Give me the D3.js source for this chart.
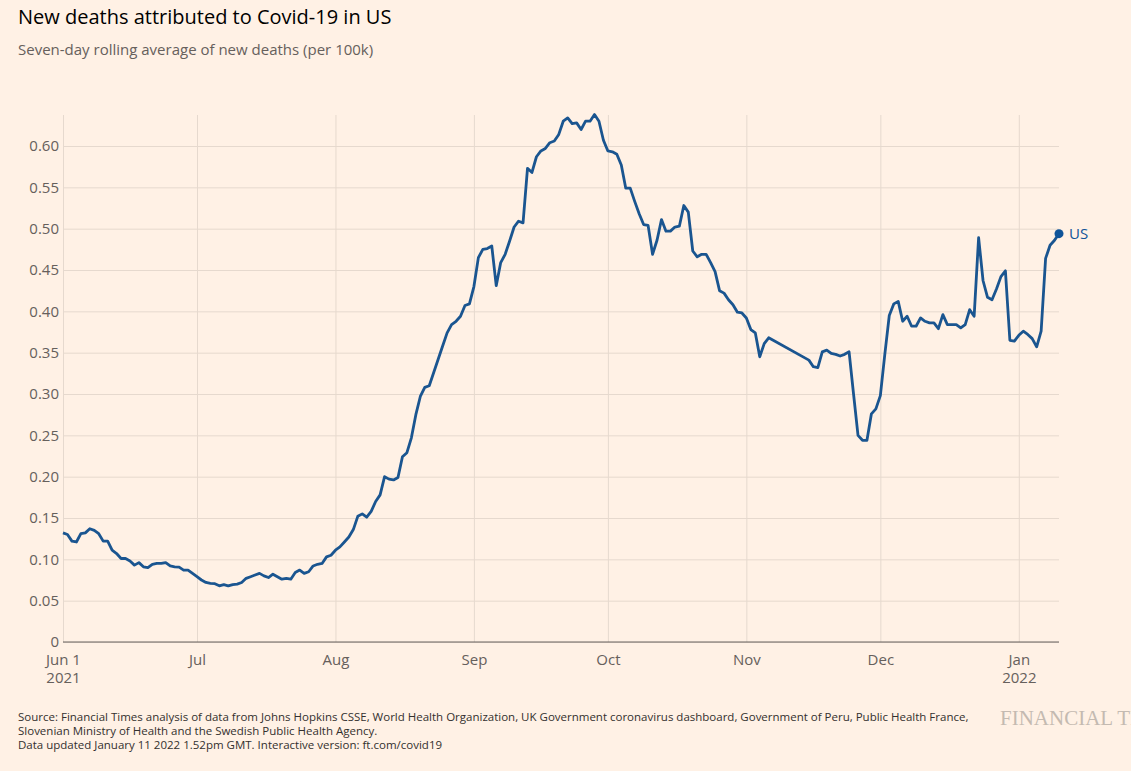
<!DOCTYPE html>
<html>
<head>
<meta charset="utf-8">
<script src="https://cdn.jsdelivr.net/npm/d3@7"></script>
<style>
  html, body { margin: 0; padding: 0; background: #fff1e5; }
  svg { display: block; }
  text { font-family: "Open Sans", "Noto Sans", sans-serif; }
</style>
</head>
<body>
<svg id="chart" width="1131" height="771"></svg>
<script>
// Daily values from Jun 1 2021; null = day not plotted (line runs straight across)
const startDate = "2021-06-01";
const usDeaths = [
  0.132, 0.130, 0.122, 0.121, 0.131, 0.132, 0.137, 0.135, 0.131, 0.122,
  0.122, 0.111, 0.107, 0.101, 0.101, 0.098, 0.093, 0.096, 0.091, 0.090,
  0.094, 0.095, 0.095, 0.096, 0.092, 0.091, 0.0905, 0.087, 0.087, 0.083,
  0.079, 0.075, 0.072, 0.071, 0.0705, 0.068, 0.0695, 0.068, 0.0695, 0.070,
  0.072, 0.077, 0.079, 0.081, 0.083, 0.080, 0.078, 0.082, 0.079, 0.076,
  0.077, 0.076, 0.084, 0.087, 0.083, 0.085, 0.092, 0.094, 0.095, 0.103,
  0.105, 0.111, 0.115, 0.121, 0.127, 0.136, 0.152, 0.155, 0.151, 0.158,
  0.170, 0.178, 0.200, 0.197, 0.196, 0.199, 0.224, 0.229, 0.247, 0.275,
  0.297, 0.308, 0.310, 0.326, 0.342, 0.358, 0.374, 0.384, 0.388, 0.394,
  0.407, 0.409, 0.430, 0.465, 0.475, 0.476, 0.479, 0.431, 0.459, 0.469,
  0.485, 0.502, 0.509, 0.507, 0.573, 0.568, 0.587, 0.594, 0.597, 0.604,
  0.606, 0.614, 0.630, 0.634, 0.627, 0.628, 0.620, 0.630, 0.630, 0.638,
  0.630, 0.607, 0.594, 0.593, 0.590, 0.577, 0.549, 0.549, 0.533, 0.518,
  0.505, 0.504, 0.469, 0.486, 0.511, 0.497, 0.497, 0.502, 0.503, 0.528,
  0.520, 0.473, 0.466, 0.469, 0.469, 0.459, 0.448, 0.425, 0.422, 0.414,
  0.408, 0.399, 0.398, 0.392, 0.378, 0.374, 0.345, 0.361, 0.368, null,
  null, null, null, null, null, null, null, 0.341, 0.333, 0.332,
  0.351, 0.353, 0.349, 0.348, 0.346, 0.348, 0.351, 0.300, 0.250, 0.244,
  0.244, 0.276, 0.282, 0.298, 0.348, 0.395, 0.409, 0.412, 0.388, 0.394,
  0.382, 0.382, 0.392, 0.388, 0.386, 0.386, 0.379, 0.396, 0.384, 0.384,
  0.384, 0.380, 0.384, 0.402, 0.394, 0.489, 0.437, 0.417, 0.414, 0.427,
  0.442, 0.449, 0.365, 0.364, 0.371, 0.376, 0.372, 0.367, 0.357, 0.376,
  0.464, 0.480, 0.486, 0.494
];
const seriesName = "US";

const yTicks = [0, 0.05, 0.10, 0.15, 0.20, 0.25, 0.30, 0.35, 0.40, 0.45, 0.50, 0.55, 0.60];
const monthTicks = ["2021-06-01", "2021-07-01", "2021-08-01", "2021-09-01", "2021-10-01",
                    "2021-11-01", "2021-12-01", "2022-01-01"];
const monthLabels = ["Jun 1", "Jul", "Aug", "Sep", "Oct", "Nov", "Dec", "Jan"];
const yearLabels = ["2021", "", "", "", "", "", "", "2022"];

const title = "New deaths attributed to Covid-19 in US";
const subtitle = "Seven-day rolling average of new deaths (per 100k)";
const sourceLines = [
  "Source: Financial Times analysis of data from Johns Hopkins CSSE, World Health Organization, UK Government coronavirus dashboard, Government of Peru, Public Health France,",
  "Slovenian Ministry of Health and the Swedish Public Health Agency.",
  "Data updated January 11 2022 1.52pm GMT. Interactive version: ft.com/covid19"
];

const parse = d3.utcParse("%Y-%m-%d");
const start = parse(startDate);
const points = usDeaths
  .map((v, i) => ({ date: d3.utcDay.offset(start, i), value: v }))
  .filter(d => d.value !== null);

const svg = d3.select("#chart");
const margin = { top: 115, right: 72, bottom: 129, left: 63 };
const width = 1131 - margin.left - margin.right;
const height = 771 - margin.top - margin.bottom;

const x = d3.scaleUtc()
  .domain(d3.extent(points, d => d.date))
  .range([0, width]);
const y = d3.scaleLinear()
  .domain([0, 0.6375])
  .range([height, 0]);

const g = svg.append("g").attr("transform", `translate(${margin.left},${margin.top})`);

// horizontal grid + y labels
const yAxis = d3.axisLeft(y)
  .tickValues(yTicks)
  .tickSize(-width)
  .tickPadding(5)
  .tickFormat(d => d === 0 ? "0" : d.toFixed(2));
g.append("g").call(yAxis)
  .call(a => a.select(".domain").remove())
  .call(a => a.selectAll("line").attr("stroke", "#e6d9ce"))
  .call(a => a.selectAll("text")
    .attr("fill", "#66605c").style("font-size", "15px").attr("x", -4));

// vertical grid + x labels
const tickDates = monthTicks.map(parse);
const xAxis = d3.axisBottom(x)
  .tickValues(tickDates)
  .tickSize(-height)
  .tickPadding(12)
  .tickFormat((d, i) => monthLabels[i]);
const xg = g.append("g").attr("transform", `translate(0,${height})`).call(xAxis);
xg.select(".domain").remove();
xg.selectAll("line").attr("stroke", "#e6d9ce");
xg.selectAll("text").attr("fill", "#66605c").style("font-size", "15px");
xg.selectAll(".tick").append("text")
  .attr("y", 41)
  .attr("fill", "#66605c")
  .style("font-size", "15px")
  .text((d, i) => yearLabels[i]);

// baseline
g.append("line")
  .attr("x1", 0).attr("x2", width)
  .attr("y1", y(0)).attr("y2", y(0))
  .attr("stroke", "#66605c").attr("stroke-width", 1);

// series line
const line = d3.line()
  .x(d => x(d.date))
  .y(d => y(d.value));
g.append("path")
  .datum(points)
  .attr("fill", "none")
  .attr("stroke", "#1a5590")
  .attr("stroke-width", 2.8)
  .attr("stroke-linejoin", "round")
  .attr("d", line);

const last = points[points.length - 1];
g.append("circle")
  .attr("cx", x(last.date)).attr("cy", y(last.value))
  .attr("r", 4.5).attr("fill", "#0f5499");
g.append("text")
  .attr("x", x(last.date) + 10).attr("y", y(last.value) + 5)
  .attr("fill", "#0f5499").style("font-size", "15px")
  .text(seriesName);

// titles
svg.append("text").attr("x", 18).attr("y", 24)
  .attr("fill", "#000").style("font-size", "20px").text(title);
svg.append("text").attr("x", 18).attr("y", 55)
  .attr("fill", "#66605c").style("font-size", "15px").text(subtitle);

// footer
svg.selectAll(".src").data(sourceLines).enter().append("text")
  .attr("class", "src")
  .attr("x", 18).attr("y", (d, i) => 721 + i * 14)
  .attr("fill", "#33302e").style("font-size", "11.5px")
  .text(d => d);
svg.append("text").attr("x", 1000).attr("y", 725)
  .attr("fill", "#c4bab1")
  .style("font-family", "'Liberation Serif', serif")
  .style("font-size", "21px")
  .text("FINANCIAL TIMES");
</script>
</body>
</html>
